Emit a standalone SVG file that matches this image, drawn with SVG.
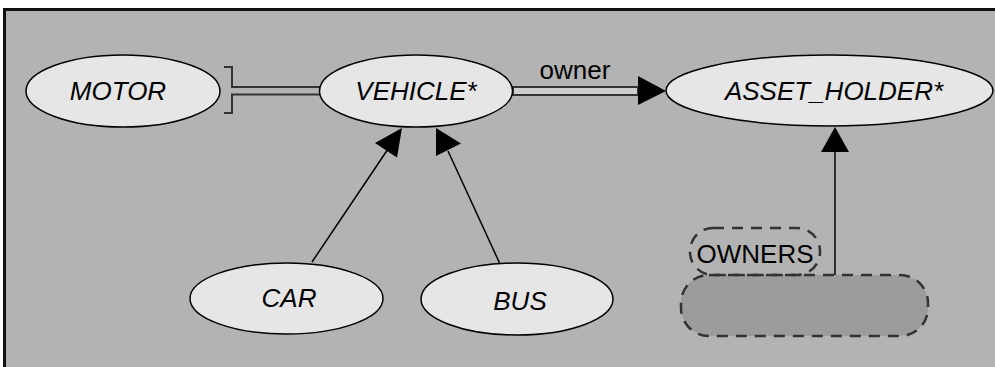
<svg xmlns="http://www.w3.org/2000/svg" width="995" height="367" viewBox="0 0 995 367">
<style>
.node ellipse{fill:#e6e6e6;stroke:#000;stroke-width:1.5}
.lbl{font-family:"Liberation Sans",Arial,sans-serif;font-size:26px;font-style:italic;fill:#000;text-anchor:middle}
.plain{font-family:"Liberation Sans",Arial,sans-serif;font-size:26px;fill:#000;text-anchor:middle}
.edge{stroke:#000;stroke-width:1.5;fill:none}
.dbl{stroke:#333;stroke-width:2;fill:none}
.head{fill:#000;stroke:none}
.dash{stroke:#333;stroke-width:2.5;stroke-dasharray:11 8}
</style>
<rect x="0" y="0" width="995" height="367" fill="#fff"/>
<rect x="4.5" y="9.5" width="1010" height="380" fill="#b3b3b3" stroke="#111" stroke-width="3"/>
<g id="OWNERS">
<rect x="681" y="275" width="247" height="61" rx="28" ry="28" fill="#9c9c9c" class="dash"/>
<rect x="690" y="228" width="130" height="47" rx="23" ry="23" fill="none" class="dash"/>
<text class="plain" x="755" y="263">OWNERS</text>
</g>
<g id="connectors">
<path class="dbl" d="M224,67 H232 V87 H320 M224,113 H232 V94.5 H320"/>
<rect x="513" y="87" width="125" height="8" fill="#cdcdcd" stroke="#333" stroke-width="2"/>
<polygon class="head" points="638,76 666,91 638,105"/>
<text class="plain" x="575" y="79">owner</text>
<line class="edge" x1="312" y1="262" x2="388" y2="149"/>
<polygon class="head" points="402,128 397,157.5 375,143"/>
<line class="edge" x1="500" y1="264" x2="448" y2="151"/>
<polygon class="head" points="436,128 461,143.5 436,156"/>
<line class="edge" x1="835" y1="275" x2="835" y2="150"/>
<polygon class="head" points="835,127 849,152 821,152"/>
</g>
<g id="MOTOR" class="node">
<ellipse cx="123" cy="91" rx="97" ry="36"/>
<text class="lbl" x="118" y="100">MOTOR</text>
</g>
<g id="VEHICLE" class="node">
<ellipse cx="416" cy="91" rx="96.5" ry="36"/>
<text class="lbl" x="416" y="100">VEHICLE*</text>
</g>
<g id="ASSET_HOLDER" class="node">
<ellipse cx="829.5" cy="90.5" rx="163.5" ry="35.5"/>
<text class="lbl" x="834" y="100">ASSET_HOLDER*</text>
</g>
<g id="CAR" class="node">
<ellipse cx="286.5" cy="298.5" rx="96.5" ry="35.5"/>
<text class="lbl" x="289" y="307">CAR</text>
</g>
<g id="BUS" class="node">
<ellipse cx="517" cy="299" rx="96" ry="36"/>
<text class="lbl" x="520" y="310">BUS</text>
</g>
</svg>
